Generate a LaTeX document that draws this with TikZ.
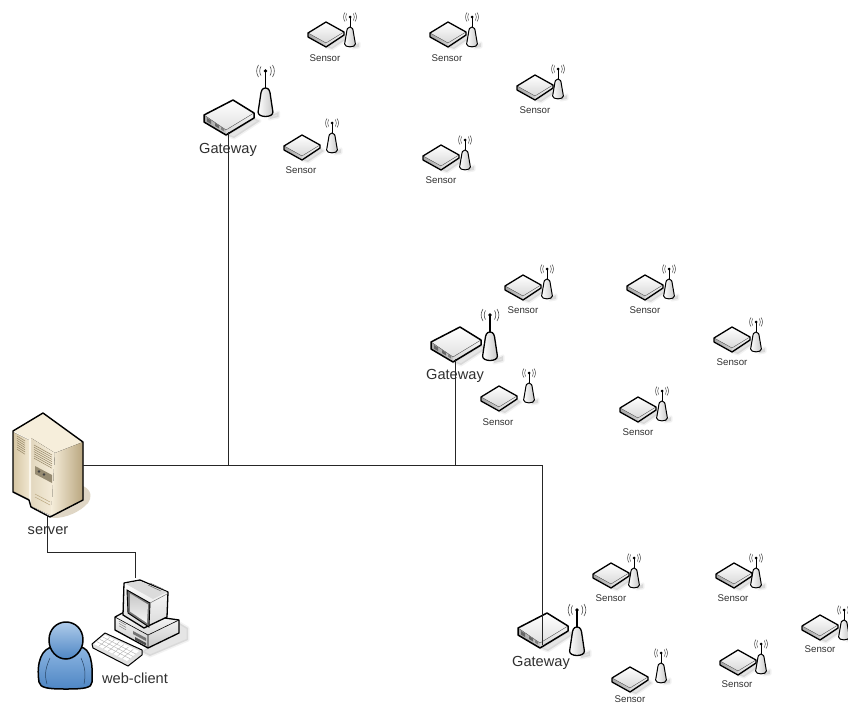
\documentclass[tikz,border=0pt]{standalone}
\usepackage{fontspec}
\setmainfont{Liberation Sans}
\definecolor{txt}{HTML}{303030}
\definecolor{beigeA}{HTML}{F6EEDB}
\definecolor{beigeB}{HTML}{D6C6A3}
\definecolor{beigeC}{HTML}{B9A67F}
\definecolor{bluA}{HTML}{8DB6E2}
\definecolor{bluB}{HTML}{4E86C4}
\tikzset{
  x=1pt,y=-1pt,
  outline/.style={draw=black,line width=1.3pt,line join=round},
  softshadow/.style={fill=black,opacity=.10,draw=black,draw opacity=.05,line width=3pt,line join=round},
  wire/.style={draw=black!85,line width=.7pt},
  smalllabel/.style={font=\fontsize{9.7}{11}\selectfont,text=txt,inner sep=0pt},
  biglabel/.style={font=\fontsize{14.6}{16}\selectfont,text=txt,inner sep=0pt},
  sensorbox/.pic={
    \path[softshadow] (0,13) -- (18,1) -- (22,4) -- (6,15) -- cycle;
    \fill[top color=white,bottom color=black!15] (-18,-1) -- (0,-12) -- (18,-2) -- (0,9) -- cycle;
    \fill[left color=black!35,right color=black!20] (-18,-1) -- (0,9) -- (0,13) -- (-18,3) -- cycle;
    \fill[left color=black!15,right color=black!5] (0,9) -- (18,-2) -- (18,1) -- (0,13) -- cycle;
    \draw[black!55,line width=.4pt] (-18,-1) -- (0,9) -- (18,-2);
    \draw[outline] (-18,-1) -- (0,-12) -- (18,-2) -- (18,1) -- (0,13) -- (-18,3) -- cycle;
  },
  sensorant/.pic={
    \path[softshadow] (3,-1) -- (9,-4) -- (9,0) -- (3,1) -- cycle;
    \draw[line width=1pt] (0,-30) -- (0,-19);
    \path[draw=black,line width=1pt,line join=round,left color=white,right color=black!22]
      (0,-20) .. controls (-2.5,-20) and (-3,-18) .. (-3.5,-14) -- (-5.4,-3)
      .. controls (-5.6,.8) and (5.6,.8) .. (5.4,-3) -- (3.5,-14)
      .. controls (3,-18) and (2.5,-20) .. (0,-20) -- cycle;
    \fill (0,-30) circle (1.5);
    \draw[line width=.5pt,black!70] (-3.4,-33.5) .. controls (-4.7,-31.5) and (-4.7,-28.5) .. (-3.4,-26.5)
      (3.4,-33.5) .. controls (4.7,-31.5) and (4.7,-28.5) .. (3.4,-26.5)
      (-5,-34.5) .. controls (-7,-31.5) and (-7,-28.5) .. (-5,-25.5)
      (5,-34.5) .. controls (7,-31.5) and (7,-28.5) .. (5,-25.5);
  },
  gateway/.pic={
    \path[softshadow] (-2,18) -- (26,1) -- (32,4) -- (6,21) -- cycle;
    \fill[top color=white,bottom color=black!12] (-24,-2) -- (5,-17) -- (26,-4) -- (-2,13) -- cycle;
    \fill[left color=black!35,right color=black!22] (-24,-2) -- (-2,13) -- (-2,18) -- (-24,5) -- cycle;
    \fill[left color=black!15,right color=black!5] (-2,13) -- (26,-4) -- (26,1) -- (-2,18) -- cycle;
    \fill[black!60] (-21,1) -- (-17,3.5) -- (-17,7) -- (-21,4.5) -- cycle
      (-13,6) -- (-9,8.5) -- (-9,11.5) -- (-13,9) -- cycle;
    \fill[black!50] (-7,10) -- (-4,12) -- (-4,14.5) -- (-7,12.5) -- cycle;
    \draw[black!55,line width=.4pt] (-24,-2) -- (-2,13) -- (26,-4);
    \draw[outline,line width=1.5pt] (-24,-2) -- (5,-17) -- (26,-4) -- (26,1) -- (-2,18) -- (-24,5) -- cycle;
    \coordinate (-port) at (0,15);
  },
  gatewayant/.pic={
    \path[softshadow] (4,-1) -- (13,-5) -- (13,0) -- (4,2) -- cycle;
    \draw[line width=1.3pt] (0,-46) -- (0,-28);
    \path[draw=black,line width=1.3pt,line join=round,left color=white,right color=black!22]
      (0,-29) .. controls (-3.5,-29) and (-4.5,-26) .. (-5,-21) -- (-7.4,-5)
      .. controls (-7.8,1) and (7.8,1) .. (7.4,-5) -- (5,-21)
      .. controls (4.5,-26) and (3.5,-29) .. (0,-29) -- cycle;
    \fill (0,-46) circle (1.9);
    \draw[line width=.6pt,black!70] (-4.5,-50.5) .. controls (-6.2,-48) and (-6.2,-44) .. (-4.5,-41.5)
      (4.5,-50.5) .. controls (6.2,-48) and (6.2,-44) .. (4.5,-41.5)
      (-7,-52) .. controls (-9.5,-48) and (-9.5,-44) .. (-7,-40)
      (7,-52) .. controls (9.5,-48) and (9.5,-44) .. (7,-40);
  }
}
\begin{document}
\begin{tikzpicture}
\useasboundingbox[fill=white] (0,0) rectangle (848,704);

% Server
\path[fill=beigeC,opacity=.45] (50,517) -- (83,486) .. controls (92,490) and (92,498) .. (88,503) .. controls (80,512) and (66,518) .. (54,518) -- cycle;
\fill[beigeA] (13,431) -- (43,413) -- (83,442) -- (55,453) -- (30,440) -- cycle;
\fill[left color=beigeB!70,right color=beigeA] (31,438) -- (55,453) -- (52,516) -- (31,506) -- cycle;
\fill[left color=beigeB,right color=beigeA!80!beigeB] (13,432) -- (29,440) -- (29,499) -- (13,491) -- cycle;
\fill[white!40!beigeA] (29,440) -- (31,438) -- (31,506) -- (29,500) -- cycle;
\fill[left color=beigeA,right color=beigeC] (55,453) -- (83,442) -- (83,500) -- (51,517) -- cycle;
\draw[outline,line width=1.4pt] (13,431) -- (43,413) -- (83,442) -- (83,500) -- (50,517) -- (31,507) -- (29,500) -- (13,492) -- cycle;
\foreach \k in {0,...,6}{
  \draw[beigeC!80!black,line width=.5pt] (17,{436+\k*2.2}) -- (25,{441+\k*2.2});
  \draw[beigeC!80!black,line width=.5pt] (34,{445+\k*2.2}) -- (52,{455+\k*2.2});
}
\fill[beigeB!70!black] (35,466) -- (52,475) -- (52,483) -- (35,474) -- cycle;
\fill[black!75] (39,471.5) circle (1.4) (44,474.5) circle (1.4);
\draw[beigeC,line width=.5pt] (35,494) -- (50,502) (35,497) -- (50,505);
\coordinate (srvE) at (83,465);
\coordinate (srvS) at (47,515);
\node[biglabel] (srvLabel) at (48,531) {server};

% Web client: shadow and keyboard
\path[softshadow] (142,652) -- (178,622) -- (188,628) -- (188,640) -- (150,656) -- cycle;
\path[draw=black,line width=1pt,line join=round,fill=black!12] (92,644) -- (105,633) -- (142,650) -- (142,655) -- (128,666) -- (93,648) -- cycle;
\path[fill=white] (94,644) -- (105,635) -- (139,651) -- (127,661) -- cycle;
\foreach \k in {1,2,3}{
  \draw[black!30,line width=.4pt] ({94+\k*3},{644-\k*2.3}) -- ({127+\k*3},{661-\k*2.3});
}
\foreach \k in {1,...,6}{
  \draw[black!30,line width=.4pt] ({94+\k*4.7},{644+\k*2.4}) -- ({105+\k*4.7},{635+\k*2.4});
}
% Web client: base and monitor
\path[outline,top color=white,bottom color=black!22]
  (115,617) -- (128,610) -- (165,618) -- (179,620) -- (179,633) -- (148,648) -- (115,630) -- cycle;
\draw[line width=.6pt] (115,617) -- (148,635) -- (179,620) (148,635) -- (148,648);
\fill[black!55] (133,631) -- (146,638) -- (146,641) -- (133,634) -- cycle;
\fill[black!70] (135,637) -- (146,643) -- (146,645.5) -- (135,640) -- cycle;
\foreach \k in {0,1,2}{\draw[black!50,line width=.5pt] (119,{621+\k*2.4}) -- (126,{625+\k*2.4});}
\path[outline,top color=white,bottom color=black!15]
  (124,583) -- (140,580) -- (168,592) -- (167,617) -- (144,628) -- (123,615) -- cycle;
\fill[black!14] (125,583.5) -- (140,581) -- (167,592) -- (153,599) -- cycle;
\draw[line width=.5pt,black!60] (150,583) -- (163,589) (148,585) -- (161,591);
\path[draw=black,line width=.9pt,fill=black!55]
  (127,590) -- (150,603) -- (149,627) -- (128,613) -- cycle;
\path[top color=black!22,bottom color=black!4] (130,593.5) -- (148,604.5) -- (147,623) -- (130,611.5) -- cycle;
\draw[line width=.5pt,black!55] (150,603) -- (167,594);
\coordinate (cliN) at (135,578);
\node[biglabel] (cliLabel) at (135,678) {web-client};

% Person
\path[outline,line width=1.5pt,top color=bluA,bottom color=bluB]
  (39,682) .. controls (36,662) and (42,648) .. (53,647) -- (80,647)
  .. controls (91,648) and (93,664) .. (92,682)
  .. controls (92,688) and (84,689) .. (66,689)
  .. controls (48,689) and (40,688) .. (39,682) -- cycle;
\path[outline,line width=1.5pt,top color=bluA!70!white,bottom color=bluB]
  (66,622) .. controls (75,622) and (83,629) .. (83,640)
  .. controls (83,651) and (74,659) .. (66,659)
  .. controls (57,659) and (49,651) .. (49,640)
  .. controls (49,629) and (57,622) .. (66,622) -- cycle;
\draw[bluB!50!black,line width=.5pt] (47,684) .. controls (44,674) and (46,667) .. (50,658)
  (84,684) .. controls (86,674) and (85,667) .. (81,658);

% Gateways
\pic (gA) at (228,117) {gateway};
\pic (gB) at (455,344) {gateway};
\pic (gC) at (542,630) {gateway};
\pic (gAa) at (265.5,117) {gatewayant};
\pic (gBa) at (490,361) {gatewayant};
\pic (gCa) at (577,656) {gatewayant};
\node[biglabel] (gAl) at (228,150) {Gateway};
\node[biglabel] (gBl) at (455,376) {Gateway};
\node[biglabel] (gCl) at (541,663) {Gateway};

% Sensors
\foreach \n/\bx/\by/\ax/\ay/\lx/\ly in {
  a/326/34/350/47/325/58, b/448/34/472/47/447/58, c/535/87/558/99/535/110,
  d/302/147/332/153/301/170, e/441/157/465/170/441/180,
  f/523/287/547/299/523/310, g/645/287/669/299/645/310, h/732/339/756/352/732/362,
  i/499/398/529/403/498/422, j/638/409/662/421/638/432,
  k/611/575/634/588/611/598, l/734/575/756/588/733/598, m/820/627/844/640/820/649,
  n/738/662/761/674/737/684, o/630/679/661/683/630/699}{
  \pic (s\n) at (\bx,\by) {sensorbox};
  \pic (a\n) at (\ax,\ay) {sensorant};
  \node[smalllabel] (sl\n) at (\lx,\ly) {Sensor};
}

% Connectors
\coordinate (cliBend) at (135,552);
\draw[wire] (srvE) -| (gC-port);
\draw[wire] (gA-port) -- (gA-port |- srvE);
\draw[wire] (gB-port) -- (gB-port |- srvE);
\draw[wire] (srvS) |- (cliBend) -- (cliN);
\end{tikzpicture}
\end{document}
